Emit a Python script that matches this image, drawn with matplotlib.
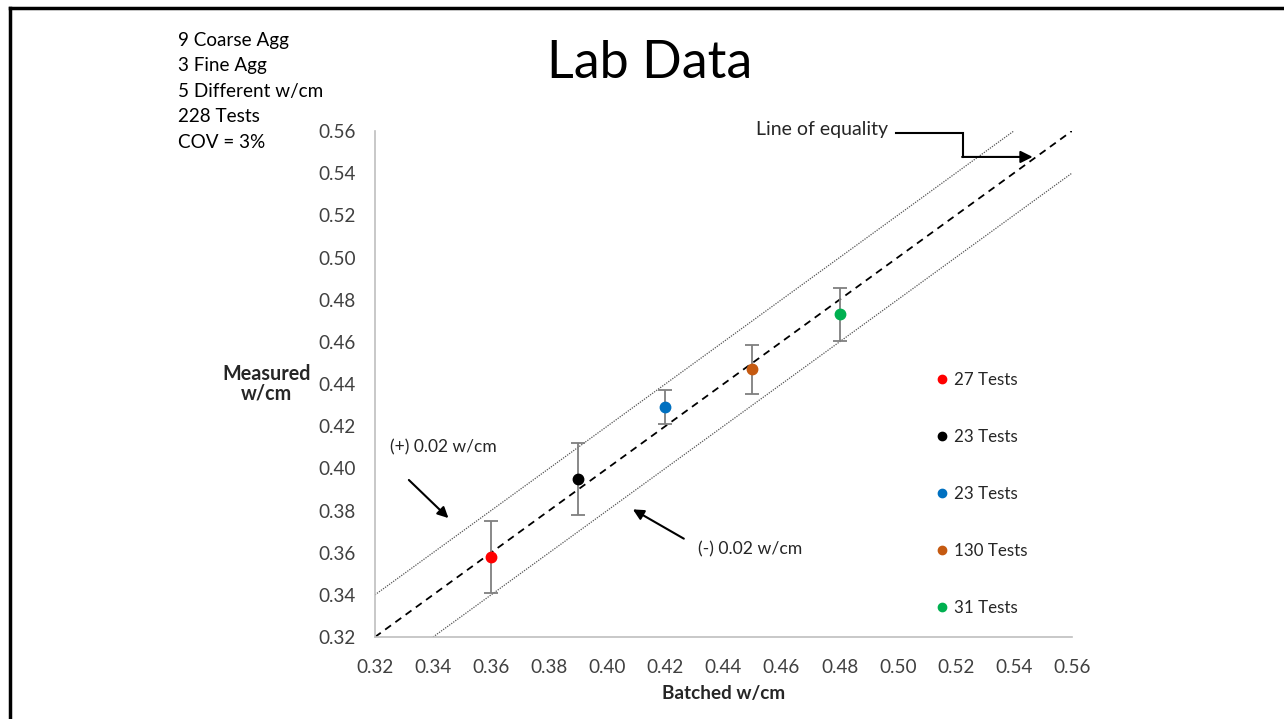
import numpy as np
import matplotlib
matplotlib.use("Agg")
import matplotlib.pyplot as plt
from matplotlib.lines import Line2D

plt.rcParams['font.family'] = ['Lato', 'DejaVu Sans']

# batched vs measured w/cm, one point per mix group
batched = [0.36, 0.39, 0.42, 0.45, 0.48]
measured = [0.358, 0.395, 0.429, 0.447, 0.473]
err = [0.017, 0.017, 0.008, 0.0115, 0.0125]
colors = ['#ff0000', '#000000', '#0070c0', '#c55a11', '#00b050']
labels = ['27 Tests', '23 Tests', '23 Tests', '130 Tests', '31 Tests']

info_lines = ['9 Coarse Agg', '3 Fine Agg', '5 Different w/cm', '228 Tests', 'COV = 3%']
ticks = [0.32, 0.34, 0.36, 0.38, 0.40, 0.42, 0.44, 0.46, 0.48, 0.50, 0.52, 0.54, 0.56]

fig = plt.figure(figsize=(12.84, 7.19), dpi=100)
ax = fig.add_axes([0.292, 0.114, 0.5428, 0.7038])

# slide frame
fig.add_artist(Line2D([0.008, 1.0], [0.989, 0.989], color='black', lw=2.5, transform=fig.transFigure))
fig.add_artist(Line2D([0.008, 0.008], [0.0, 0.989], color='black', lw=2.5, transform=fig.transFigure))

# equality line and +/- 0.02 band
ax.plot([0.32, 0.56], [0.32, 0.56], color='black', ls=(0, (4, 3)), lw=1.3)
ax.plot([0.32, 0.54], [0.34, 0.56], color='#555555', ls=(0, (1, 1)), lw=0.9)
ax.plot([0.34, 0.56], [0.32, 0.54], color='#555555', ls=(0, (1, 1)), lw=0.9)

for x, y, e, c, lab in zip(batched, measured, err, colors, labels):
    ax.errorbar(x, y, yerr=e, fmt='none', ecolor='#7f7f7f', elinewidth=1.3, capsize=5, capthick=1.3, zorder=3)
    ax.plot(x, y, 'o', color=c, ms=7.5, zorder=4, label=lab)

ax.set_xlim(0.32, 0.56)
ax.set_ylim(0.32, 0.56)
ax.set_xticks(ticks)
ax.set_yticks(ticks)
ax.set_xticklabels([f'{t:.2f}' for t in ticks])
ax.set_yticklabels([f'{t:.2f}' for t in ticks])
ax.tick_params(length=0, labelsize=13.6, colors='#404040')
ax.tick_params(axis='y', pad=14)
ax.tick_params(axis='x', pad=16)
for s in ['top', 'right']:
    ax.spines[s].set_visible(False)
for s in ['left', 'bottom']:
    ax.spines[s].set_color('#bfbfbf')
    ax.spines[s].set_linewidth(1.2)

ax.set_xlabel('Batched w/cm', fontsize=13.6, fontweight='bold', color='#262626', labelpad=6)
ax.set_ylabel('Measured\nw/cm', fontsize=14.2, fontweight='bold', color='#262626',
              rotation=0, ha='center', va='center', labelpad=37, linespacing=0.95)

leg = ax.legend(loc='upper left', bbox_to_anchor=(0.787, 0.554), frameon=False, fontsize=12.2,
                handlelength=0.4, handletextpad=0.5, labelspacing=2.42, markerscale=0.8)
for t in leg.get_texts():
    t.set_color('#262626')

# elbow pointer to the equality line
ax.plot([0.4995, 0.5225, 0.5225], [0.5590, 0.5590, 0.5477], color='black', lw=1.5,
        solid_joinstyle='miter', clip_on=False)
ax.annotate('', xy=(0.5465, 0.5477), xytext=(0.5222, 0.5477),
            arrowprops=dict(arrowstyle='-|>', color='black', lw=1.5, mutation_scale=18,
                            shrinkA=0, shrinkB=0))
ax.text(0.4966, 0.5605, 'Line of equality', fontsize=14, color='#262626', ha='right', va='center')

ax.annotate('', xy=(0.346, 0.3755), xytext=(0.331, 0.3954),
            arrowprops=dict(arrowstyle='-|>', color='black', lw=1.5, mutation_scale=16))
ax.text(0.3252, 0.4101, '(+) 0.02 w/cm', fontsize=12.5, color='#262626', ha='left', va='center')

ax.annotate('', xy=(0.408, 0.3812), xytext=(0.4272, 0.366),
            arrowprops=dict(arrowstyle='-|>', color='black', lw=1.5, mutation_scale=16))
ax.text(0.4313, 0.3615, '(-) 0.02 w/cm', fontsize=12.7, color='#262626', ha='left', va='center')

fig.text(0.506, 0.912, 'Lab Data', fontsize=37.5, ha='center', va='center', color='black')

for i, line in enumerate(info_lines):
    fig.text(0.1385, 0.944 - i * 0.0355, line, fontsize=13.6, ha='left', va='center', color='black')

fig.savefig('out.png', dpi=100)
